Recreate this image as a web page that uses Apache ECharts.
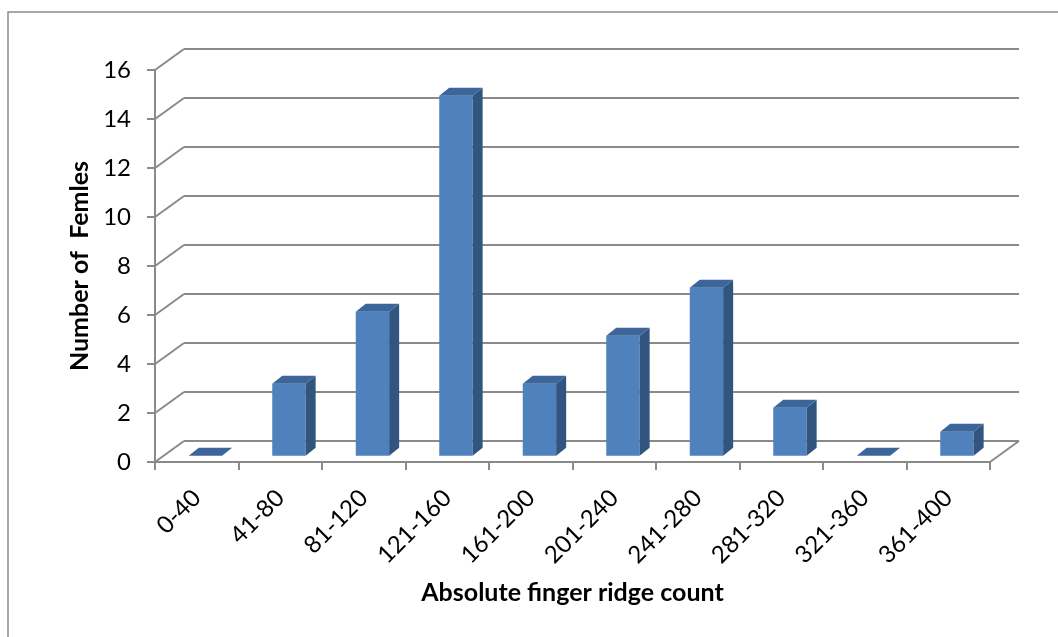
<!DOCTYPE html>
<html>
<head>
<meta charset="utf-8">
<style>
  html, body { margin: 0; padding: 0; background: #fff; }
  #chart { width: 1058px; height: 637px; }
</style>
<script src="https://cdn.jsdelivr.net/npm/echarts@6/dist/echarts.min.js"></script>
</head>
<body>
<div id="chart"></div>
<script>
// Ridge-count classes and how many females fall in each
const categories = ['0-40', '41-80', '81-120', '121-160', '161-200', '201-240', '241-280', '281-320', '321-360', '361-400'];
const females = [0, 3, 6, 15, 3, 5, 7, 2, 0, 1];
const yTicks = [0, 2, 4, 6, 8, 10, 12, 14, 16];

// Oblique 3D box: front plane, back wall offset and the plane the columns stand in
const FRONT = { left: 155, right: 68, top: 70, bottom: 175 };
const WALL = [29, -21];        // front plane -> back wall
const BAR_PLANE = [8.7, -6.3]; // front plane -> column front faces
const BAR_DEPTH = [10, -8];    // column thickness
const BAR_HEIGHT = 384;        // 0..16 span at the column plane

const GRID_COLOR = '#8a8a8a';
const FONT = 'Lato, "Open Sans", sans-serif';

const chart = echarts.init(document.getElementById('chart'), null, { renderer: 'canvas' });

function offsetGrid(g, d) {
  return { left: g.left + d[0], right: g.right - d[0], top: g.top + d[1], bottom: g.bottom - d[1] };
}
const backGrid = offsetGrid(FRONT, WALL);
const barBase = offsetGrid(FRONT, BAR_PLANE);
const barGrid = {
  left: barBase.left, right: barBase.right, bottom: barBase.bottom,
  top: 637 - barBase.bottom - BAR_HEIGHT
};

function hiddenAxis(extra) {
  return Object.assign({
    show: true,
    axisLine: { show: false }, axisTick: { show: false },
    axisLabel: { show: false }, splitLine: { show: false }
  }, extra);
}

// Left-wall connectors from front ticks to the back wall, plus the right floor edge
function renderFrame(params, api) {
  const cs = params.coordSys;
  const kind = api.value(1);
  const y = api.coord([0, api.value(0)])[1];
  const x = kind === 0 ? cs.x : cs.x + cs.width;
  return {
    type: 'line',
    shape: { x1: x, y1: y, x2: x + WALL[0], y2: y + WALL[1] },
    style: { stroke: GRID_COLOR, lineWidth: 2 }
  };
}

function renderColumn(params, api) {
  const i = api.value(0);
  const v = api.value(1);
  const base = api.coord([i, 0]);
  const top = api.coord([i, v]);
  const w = api.size([1, 0])[0] * 0.4;
  const x0 = base[0] - w / 2, x1 = base[0] + w / 2;
  const yb = base[1], yt = top[1];
  const dx = BAR_DEPTH[0], dy = BAR_DEPTH[1];
  const children = [];
  if (yb - yt > 0.5) {
    children.push({
      type: 'rect',
      shape: { x: x0, y: yt, width: w, height: yb - yt },
      style: { fill: '#4f81bd' }
    });
    children.push({
      type: 'polygon',
      shape: { points: [[x1, yt], [x1 + dx, yt + dy], [x1 + dx, yb + dy], [x1, yb]] },
      style: { fill: '#32557f' }
    });
  }
  children.push({
    type: 'polygon',
    shape: { points: [[x0, yt], [x0 + dx, yt + dy], [x1 + dx, yt + dy], [x1, yt]] },
    style: { fill: '#3c659b' }
  });
  return { type: 'group', children: children };
}

const option = {
  backgroundColor: '#ffffff',
  animation: false,
  textStyle: { fontFamily: FONT },
  graphic: [{
    type: 'rect',
    shape: { x: 8, y: 12, width: 1200, height: 800 },
    style: { fill: 'none', stroke: '#8c8c8c', lineWidth: 1.5 },
    z: 0
  }],
  grid: [
    Object.assign({ containLabel: false }, FRONT),
    Object.assign({ containLabel: false }, backGrid),
    Object.assign({ containLabel: false }, barGrid)
  ],
  xAxis: [
    {
      gridIndex: 0, type: 'category', data: categories, boundaryGap: true,
      name: 'Absolute finger ridge count', nameLocation: 'middle', nameGap: 118,
      nameTextStyle: { fontSize: 25, fontWeight: 'bold', color: '#000', fontFamily: FONT },
      axisLine: { show: true, lineStyle: { color: GRID_COLOR, width: 2 } },
      axisTick: { show: true, interval: 0, length: 8, alignWithLabel: false, lineStyle: { color: GRID_COLOR, width: 2 } },
      axisLabel: { interval: 0, rotate: 45, fontSize: 24, color: '#000', margin: 32, fontFamily: FONT },
      splitLine: { show: false }
    },
    hiddenAxis({ gridIndex: 1, type: 'category', data: categories }),
    hiddenAxis({ gridIndex: 2, type: 'category', data: categories })
  ],
  yAxis: [
    {
      gridIndex: 0, type: 'value', min: 0, max: 16, interval: 2,
      name: 'Number of  Femles', nameLocation: 'middle', nameGap: 63, nameRotate: 90,
      nameTextStyle: { fontSize: 25, fontWeight: 'bold', color: '#000', fontFamily: FONT },
      axisLine: { show: true, lineStyle: { color: GRID_COLOR, width: 2 } },
      axisTick: { show: true, length: 8, lineStyle: { color: GRID_COLOR, width: 2 } },
      axisLabel: { fontSize: 24, color: '#000', margin: 24, fontFamily: FONT },
      splitLine: { show: false }
    },
    hiddenAxis({
      gridIndex: 1, type: 'value', min: 0, max: 16, interval: 2,
      splitLine: { show: true, showMinLine: true, showMaxLine: true, lineStyle: { color: GRID_COLOR, width: 2 } }
    }),
    hiddenAxis({ gridIndex: 2, type: 'value', min: 0, max: 16, interval: 2 })
  ],
  series: [
    {
      type: 'custom', name: 'frame', xAxisIndex: 0, yAxisIndex: 0,
      renderItem: renderFrame, silent: true, z: 1,
      data: yTicks.map(function (t) { return [t, 0]; }).concat([[0, 1]])
    },
    {
      type: 'custom', name: 'Females', xAxisIndex: 2, yAxisIndex: 2,
      renderItem: renderColumn, z: 3,
      data: females.map(function (v, i) { return [i, v]; })
    }
  ]
};

chart.setOption(option);
</script>
</body>
</html>
